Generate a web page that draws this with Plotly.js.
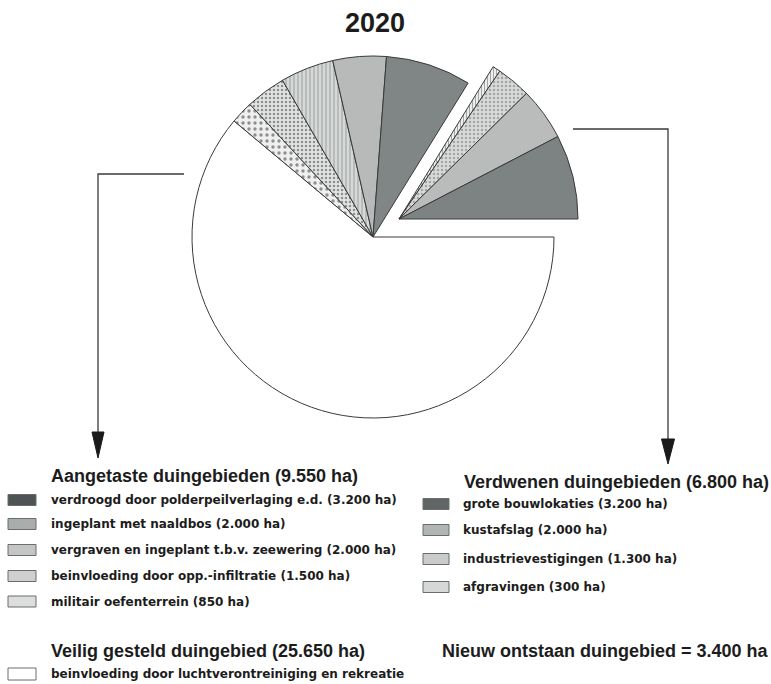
<!DOCTYPE html>
<html>
<head>
<meta charset="utf-8">
<script src="https://cdn.plot.ly/plotly-3.0.1.min.js"></script>
<style>
  html, body { margin: 0; padding: 0; background: #ffffff; }
  #chart { width: 771px; height: 684px; }
</style>
</head>
<body>
<div id="chart"></div>
<script>
// ---------- data ----------
const chartTitle = "2020";
// slice order (clockwise from 3 o'clock)
const sliceLabels = [
  "beinvloeding door luchtverontreiniging en rekreatie",
  "militair oefenterrein (850 ha)",
  "beinvloeding door opp.-infiltratie (1.500 ha)",
  "vergraven en ingeplant t.b.v. zeewering (2.000 ha)",
  "ingeplant met naaldbos (2.000 ha)",
  "verdroogd door polderpeilverlaging e.d. (3.200 ha)",
  "afgravingen (300 ha)",
  "industrievestigingen (1.300 ha)",
  "kustafslag (2.000 ha)",
  "grote bouwlokaties (3.200 ha)"
];
const sliceValues = [25650, 850, 1500, 2000, 2000, 3200, 300, 1300, 2000, 3200];
const sliceGroup  = ["veilig", "aangetast", "aangetast", "aangetast", "aangetast", "aangetast",
                     "verdwenen", "verdwenen", "verdwenen", "verdwenen"];

const headerAangetast = "Aangetaste duingebieden (9.550 ha)";
const itemsAangetast = [
  "verdroogd door polderpeilverlaging e.d. (3.200 ha)",
  "ingeplant met naaldbos (2.000 ha)",
  "vergraven en ingeplant t.b.v. zeewering (2.000 ha)",
  "beinvloeding door opp.-infiltratie (1.500 ha)",
  "militair oefenterrein (850 ha)"
];
const headerVeilig = "Veilig gesteld duingebied (25.650 ha)";
const itemsVeilig = ["beinvloeding door luchtverontreiniging en rekreatie"];
const headerVerdwenen = "Verdwenen duingebieden (6.800 ha)";
const itemsVerdwenen = [
  "grote bouwlokaties (3.200 ha)",
  "kustafslag (2.000 ha)",
  "industrievestigingen (1.300 ha)",
  "afgravingen (300 ha)"
];
const noteNieuw = "Nieuw ontstaan duingebied = 3.400 ha";

// ---------- styles ----------
const W = 771, H = 684;
const px = x => x / W;
const py = y => 1 - y / H;
const CLEAR = "rgba(0,0,0,0)";
const LINE = "#3a3a3a";

const sliceStyle = {
  "beinvloeding door luchtverontreiniging en rekreatie": {bg: "#ffffff", shape: "", fg: "#ffffff", size: 8, sol: 0.2},
  "militair oefenterrein (850 ha)":                     {bg: "#eeefee", shape: ".", fg: "#8c8f8e", size: 6, sol: 0.25},
  "beinvloeding door opp.-infiltratie (1.500 ha)":      {bg: "#e2e4e3", shape: ".", fg: "#8c8f8e", size: 4, sol: 0.3},
  "vergraven en ingeplant t.b.v. zeewering (2.000 ha)": {bg: "#d6d9d8", shape: "|", fg: "#a3a7a6", size: 4, sol: 0.3},
  "ingeplant met naaldbos (2.000 ha)":                  {bg: "#b7bab9", shape: "", fg: "#b7bab9", size: 8, sol: 0.2},
  "verdroogd door polderpeilverlaging e.d. (3.200 ha)": {bg: "#808685", shape: "", fg: "#808685", size: 8, sol: 0.2},
  "afgravingen (300 ha)":                               {bg: "#eceded", shape: "|", fg: "#9a9d9c", size: 3, sol: 0.3},
  "industrievestigingen (1.300 ha)":                    {bg: "#d9dbda", shape: ".", fg: "#a2a5a4", size: 4, sol: 0.3},
  "kustafslag (2.000 ha)":                              {bg: "#b9bcbb", shape: "", fg: "#b9bcbb", size: 8, sol: 0.2},
  "grote bouwlokaties (3.200 ha)":                      {bg: "#7d8382", shape: "", fg: "#7d8382", size: 8, sol: 0.2}
};
const swatchColor = {
  "verdroogd door polderpeilverlaging e.d. (3.200 ha)": "#4d5453",
  "ingeplant met naaldbos (2.000 ha)": "#a9adac",
  "vergraven en ingeplant t.b.v. zeewering (2.000 ha)": "#c3c6c5",
  "beinvloeding door opp.-infiltratie (1.500 ha)": "#cdd0cf",
  "militair oefenterrein (850 ha)": "#dcdedd",
  "beinvloeding door luchtverontreiniging en rekreatie": "#ffffff",
  "grote bouwlokaties (3.200 ha)": "#5f6665",
  "kustafslag (2.000 ha)": "#b1b5b4",
  "industrievestigingen (1.300 ha)": "#c9cccb",
  "afgravingen (300 ha)": "#d6d8d7"
};

function pieTrace(showGroups, cx, cy, r) {
  const on = sliceGroup.map(g => showGroups.includes(g));
  const st = sliceLabels.map(l => sliceStyle[l]);
  return {
    type: "pie",
    labels: sliceLabels,
    values: sliceValues,
    sort: false,
    direction: "clockwise",
    rotation: 90,
    textinfo: "none",
    hoverinfo: "none",
    showlegend: false,
    domain: {x: [px(cx - r), px(cx + r)], y: [py(cy + r), py(cy - r)]},
    marker: {
      colors: st.map((s, i) => on[i] ? s.bg : CLEAR),
      line: {color: on.map(o => o ? LINE : CLEAR), width: on.map(o => o ? 1 : 0)},
      pattern: {
        shape: st.map((s, i) => on[i] ? s.shape : ""),
        bgcolor: st.map((s, i) => on[i] ? s.bg : CLEAR),
        fgcolor: st.map((s, i) => on[i] ? s.fg : CLEAR),
        size: st.map(s => s.size),
        solidity: st.map(s => s.sol)
      }
    }
  };
}

const traces = [
  pieTrace(["veilig", "aangetast"], 373, 237, 181),
  pieTrace(["verdwenen"], 399, 219, 179)
];

// ---------- legend (annotations + swatches) ----------
const annotations = [];
const shapes = [];
const HEAD_FONT = {family: "Liberation Sans, Arial, sans-serif", size: 18, color: "#1c1c1c", weight: "bold"};
const ITEM_FONT = {family: "DejaVu Sans, sans-serif", size: 12, color: "#1c1c1c", weight: "bold"};

function text(t, x, y, font) {
  annotations.push({text: "<b>" + t + "</b>", x: px(x), y: py(y), xref: "paper", yref: "paper",
    xanchor: "left", yanchor: "middle", showarrow: false, font: font});
}
function swatch(x0, x1, yc, h, color) {
  shapes.push({type: "rect", xref: "paper", yref: "paper",
    x0: px(x0), x1: px(x1), y0: py(yc + h / 2), y1: py(yc - h / 2),
    fillcolor: color, line: {color: "#6a6d6c", width: 1}});
}

text(headerAangetast, 49, 476, HEAD_FONT);
const leftY = [500, 524, 550, 576, 601.5];
itemsAangetast.forEach((t, i) => { swatch(8, 36, leftY[i], 11, swatchColor[t]); text(t, 49, leftY[i], ITEM_FONT); });

text(headerVeilig, 49, 651, HEAD_FONT);
itemsVeilig.forEach((t, i) => { swatch(8, 36, 674, 12, swatchColor[t]); text(t, 49, 674, ITEM_FONT); });

text(headerVerdwenen, 462, 482, HEAD_FONT);
const rightY = [504, 530, 559, 587];
itemsVerdwenen.forEach((t, i) => { swatch(423, 449, rightY[i], 11, swatchColor[t]); text(t, 461, rightY[i], ITEM_FONT); });

text(noteNieuw, 440, 651, HEAD_FONT);

// ---------- arrows ----------
function pathFrom(pts, close) {
  return pts.map((p, i) => (i ? "L" : "M") + px(p[0]).toFixed(5) + "," + py(p[1]).toFixed(5)).join(" ") + (close ? " Z" : "");
}
shapes.push({type: "path", xref: "paper", yref: "paper", path: pathFrom([[184, 174], [98, 174], [98, 440]]),
  line: {color: LINE, width: 1.3}});
shapes.push({type: "path", xref: "paper", yref: "paper", path: pathFrom([[92, 432], [104, 432], [98, 458]], true),
  fillcolor: "#1a1a1a", line: {color: "#1a1a1a", width: 1}});
shapes.push({type: "path", xref: "paper", yref: "paper", path: pathFrom([[573, 129], [668, 129], [668, 444]]),
  line: {color: LINE, width: 1.3}});
shapes.push({type: "path", xref: "paper", yref: "paper", path: pathFrom([[661.5, 439], [674.5, 439], [668, 464]], true),
  fillcolor: "#1a1a1a", line: {color: "#1a1a1a", width: 1}});

const layout = {
  width: W, height: H,
  margin: {l: 0, r: 0, t: 0, b: 0},
  paper_bgcolor: "#ffffff",
  plot_bgcolor: "#ffffff",
  showlegend: false,
  title: {text: "<b>" + chartTitle + "</b>", x: px(375), y: py(23), xref: "paper", yref: "container",
          xanchor: "center", yanchor: "middle",
          font: {family: "Liberation Sans, Arial, sans-serif", size: 27, color: "#1c1c1c"}},
  annotations: annotations,
  shapes: shapes
};

Plotly.newPlot("chart", traces, layout, {displayModeBar: false, staticPlot: true});
</script>
</body>
</html>
